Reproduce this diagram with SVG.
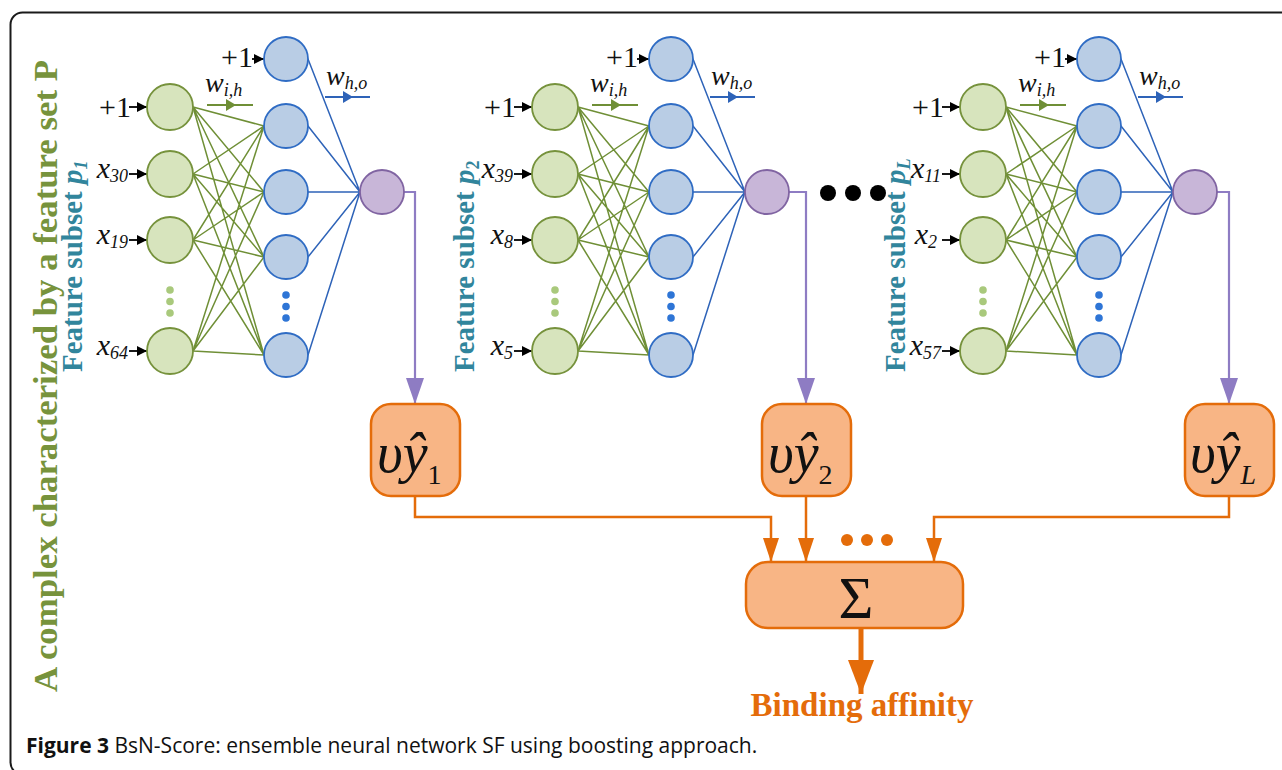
<svg xmlns="http://www.w3.org/2000/svg" xmlns:xlink="http://www.w3.org/1999/xlink" width="1282" height="770" viewBox="0 0 1282 770">
<style>
.in{fill:#d7e4bd;stroke:#76923c;stroke-width:1.8}
.hid{fill:#b9cde5;stroke:#2f6cc4;stroke-width:1.8}
.out{fill:#c8b6d8;stroke:#8064a2;stroke-width:1.8}
.ge{stroke:#6f8f36;stroke-width:1.5;fill:none}
.be{stroke:#2e63b8;stroke-width:1.5;fill:none}
.lab{font-family:"Liberation Serif",serif;font-size:30px;fill:#111}
.labi{font-family:"Liberation Serif",serif;font-size:30px;font-style:italic;fill:#111}
.wl{font-family:"Liberation Serif",serif;font-size:28px;font-style:italic;fill:#111}
.sub{font-size:18px;font-style:italic}
.feat{font-family:"Liberation Serif",serif;font-size:29px;font-weight:bold;fill:#31859c}
.title{font-family:"Liberation Serif",serif;font-size:34px;font-weight:bold;fill:#77933c}
.box{fill:#f8b585;stroke:#e46c0a;stroke-width:2.5}
.oc{stroke:#e46c0a;stroke-width:2.5;fill:none}
.pc{stroke:#8e7cc3;stroke-width:2.2;fill:none}
.ya{font-family:"Liberation Serif",serif;font-size:56px;font-style:italic;fill:#111}
.arr{stroke:#000;stroke-width:1.8}
</style>
<defs>
<marker id="mk-black" markerUnits="userSpaceOnUse" markerWidth="10" markerHeight="10" refX="10" refY="5" orient="auto"><path d="M0,0 L10,5 L0,10 z" fill="#000"/></marker>
<marker id="mk-purple" markerUnits="userSpaceOnUse" markerWidth="26" markerHeight="18" refX="26" refY="9" orient="auto"><path d="M0,0 L26,9 L0,18 z" fill="#8e7cc3"/></marker>
<marker id="mk-orange" markerUnits="userSpaceOnUse" markerWidth="24" markerHeight="16" refX="24" refY="8" orient="auto"><path d="M0,0 L24,8 L0,16 z" fill="#e46c0a"/></marker>
<marker id="mk-big" markerUnits="userSpaceOnUse" markerWidth="34" markerHeight="26" refX="34" refY="13" orient="auto"><path d="M0,0 L34,13 L0,26 z" fill="#e46c0a"/></marker>
<g id="edges">
<path class="ge" d="M23,107 L94,126 M23,107 L94,192 M23,107 L94,257 M23,107 L94,355
M23,174 L94,126 M23,174 L94,192 M23,174 L94,257 M23,174 L94,355
M23,240 L94,126 M23,240 L94,192 M23,240 L94,257 M23,240 L94,355
M23,351 L94,126 M23,351 L94,192 M23,351 L94,257 M23,351 L94,355"/>
<path class="be" d="M138,59 L190,192 M138,126 L190,192 M138,192 L190,192 M138,257 L190,192 M138,355 L190,192"/>
<line class="arr" x1="-41" y1="107" x2="-23" y2="107" marker-end="url(#mk-black)"/>
<line class="arr" x1="-41" y1="174" x2="-23" y2="174" marker-end="url(#mk-black)"/>
<line class="arr" x1="-41" y1="240" x2="-23" y2="240" marker-end="url(#mk-black)"/>
<line class="arr" x1="-41" y1="351" x2="-23" y2="351" marker-end="url(#mk-black)"/>
<line class="arr" x1="82" y1="59" x2="94" y2="59" marker-end="url(#mk-black)"/>
<line x1="37" y1="105" x2="83" y2="105" stroke="#6f8f36" stroke-width="1.8"/>
<path d="M56,99 L66,105 L56,111 z" fill="#6f8f36"/>
<line x1="155" y1="97" x2="200" y2="97" stroke="#2e63b8" stroke-width="1.8"/>
<path d="M173,91 L183,97 L173,103 z" fill="#2e63b8"/>
</g>
</defs>

<rect x="10.5" y="12.5" width="1300" height="762" rx="12" fill="none" stroke="#1a1a1a" stroke-width="2"/>

<text class="title" transform="translate(57,692) rotate(-90)" textLength="632" lengthAdjust="spacingAndGlyphs">A complex characterized by a feature set P</text>
<text class="feat" transform="translate(82,372) rotate(-90)">Feature subset <tspan font-style="italic">p</tspan><tspan font-size="18" font-style="italic" dy="5">1</tspan></text>
<text class="feat" transform="translate(474,372) rotate(-90)">Feature subset <tspan font-style="italic">p</tspan><tspan font-size="18" dy="5">2</tspan></text>
<text class="feat" transform="translate(905,372) rotate(-90)">Feature subset <tspan font-style="italic">p</tspan><tspan font-size="18" font-style="italic" dy="5">L</tspan></text>

<g id="connectors">
<use xlink:href="#edges" href="#edges" transform="translate(170,0)"/>
<use xlink:href="#edges" href="#edges" transform="translate(555,0)"/>
<use xlink:href="#edges" href="#edges" transform="translate(983,0)"/>
<path class="pc" d="M404,192 H415 V404" marker-end="url(#mk-purple)"/>
<path class="pc" d="M789,192 H806 V404" marker-end="url(#mk-purple)"/>
<path class="pc" d="M1217,192 H1229 V404" marker-end="url(#mk-purple)"/>
<path class="oc" d="M415,496 V517 H771 V562" marker-end="url(#mk-orange)"/>
<path class="oc" d="M806,496 V562" marker-end="url(#mk-orange)"/>
<path class="oc" d="M1229,496 V517 H934 V562" marker-end="url(#mk-orange)"/>
<line x1="861" y1="628" x2="861" y2="694" stroke="#e46c0a" stroke-width="5" marker-end="url(#mk-big)"/>
</g>

<!-- network 1 -->
<g id="net1" transform="translate(170,0)">
<g id="n1-in-bias"><circle class="in" cx="0" cy="107" r="23"/><text class="lab" x="-39" y="117" text-anchor="end">+1</text></g>
<g id="n1-in-x30"><circle class="in" cx="0" cy="174" r="23"/><text class="labi" x="-42" y="178" text-anchor="end">x<tspan class="sub" dy="4">30</tspan></text></g>
<g id="n1-in-x19"><circle class="in" cx="0" cy="240" r="23"/><text class="labi" x="-42" y="244" text-anchor="end">x<tspan class="sub" dy="4">19</tspan></text></g>
<g id="n1-in-dots"><circle cx="0" cy="290" r="3.8" fill="#a9c97c"/><circle cx="0" cy="301.5" r="3.8" fill="#a9c97c"/><circle cx="0" cy="313" r="3.8" fill="#a9c97c"/></g>
<g id="n1-in-x64"><circle class="in" cx="0" cy="351" r="23"/><text class="labi" x="-42" y="355" text-anchor="end">x<tspan class="sub" dy="4">64</tspan></text></g>
<g id="n1-h-bias"><circle class="hid" cx="116" cy="59" r="22"/><text class="lab" x="83" y="67" text-anchor="end">+1</text></g>
<g id="n1-h1"><circle class="hid" cx="116" cy="126" r="22"/></g>
<g id="n1-h2"><circle class="hid" cx="116" cy="192" r="22"/></g>
<g id="n1-h3"><circle class="hid" cx="116" cy="257" r="22"/></g>
<g id="n1-h-dots"><circle cx="116" cy="295" r="3.8" fill="#2e75d6"/><circle cx="116" cy="306.5" r="3.8" fill="#2e75d6"/><circle cx="116" cy="318" r="3.8" fill="#2e75d6"/></g>
<g id="n1-h4"><circle class="hid" cx="116" cy="355" r="22"/></g>
<g id="n1-out"><circle class="out" cx="212" cy="192" r="22"/></g>
<g id="n1-wih"><text class="wl" x="35" y="92">w<tspan class="sub" dy="4">i,h</tspan></text></g>
<g id="n1-who"><text class="wl" x="156" y="85">w<tspan class="sub" dy="4">h,o</tspan></text></g>
</g>

<!-- network 2 -->
<g id="net2" transform="translate(555,0)">
<g id="n2-in-bias"><circle class="in" cx="0" cy="107" r="23"/><text class="lab" x="-39" y="117" text-anchor="end">+1</text></g>
<g id="n2-in-x39"><circle class="in" cx="0" cy="174" r="23"/><text class="labi" x="-42" y="178" text-anchor="end">x<tspan class="sub" dy="4">39</tspan></text></g>
<g id="n2-in-x8"><circle class="in" cx="0" cy="240" r="23"/><text class="labi" x="-42" y="244" text-anchor="end">x<tspan class="sub" dy="4">8</tspan></text></g>
<g id="n2-in-dots"><circle cx="0" cy="290" r="3.8" fill="#a9c97c"/><circle cx="0" cy="301.5" r="3.8" fill="#a9c97c"/><circle cx="0" cy="313" r="3.8" fill="#a9c97c"/></g>
<g id="n2-in-x5"><circle class="in" cx="0" cy="351" r="23"/><text class="labi" x="-42" y="355" text-anchor="end">x<tspan class="sub" dy="4">5</tspan></text></g>
<g id="n2-h-bias"><circle class="hid" cx="116" cy="59" r="22"/><text class="lab" x="83" y="67" text-anchor="end">+1</text></g>
<g id="n2-h1"><circle class="hid" cx="116" cy="126" r="22"/></g>
<g id="n2-h2"><circle class="hid" cx="116" cy="192" r="22"/></g>
<g id="n2-h3"><circle class="hid" cx="116" cy="257" r="22"/></g>
<g id="n2-h-dots"><circle cx="116" cy="295" r="3.8" fill="#2e75d6"/><circle cx="116" cy="306.5" r="3.8" fill="#2e75d6"/><circle cx="116" cy="318" r="3.8" fill="#2e75d6"/></g>
<g id="n2-h4"><circle class="hid" cx="116" cy="355" r="22"/></g>
<g id="n2-out"><circle class="out" cx="212" cy="192" r="22"/></g>
<g id="n2-wih"><text class="wl" x="35" y="92">w<tspan class="sub" dy="4">i,h</tspan></text></g>
<g id="n2-who"><text class="wl" x="156" y="85">w<tspan class="sub" dy="4">h,o</tspan></text></g>
</g>

<!-- network L -->
<g id="net3" transform="translate(983,0)">
<g id="n3-in-bias"><circle class="in" cx="0" cy="107" r="23"/><text class="lab" x="-39" y="117" text-anchor="end">+1</text></g>
<g id="n3-in-x11"><circle class="in" cx="0" cy="174" r="23"/><text class="labi" x="-42" y="178" text-anchor="end">x<tspan class="sub" dy="4">11</tspan></text></g>
<g id="n3-in-x2"><circle class="in" cx="0" cy="240" r="23"/><text class="labi" x="-46" y="244" text-anchor="end">x<tspan class="sub" dy="4">2</tspan></text></g>
<g id="n3-in-dots"><circle cx="0" cy="290" r="3.8" fill="#a9c97c"/><circle cx="0" cy="301.5" r="3.8" fill="#a9c97c"/><circle cx="0" cy="313" r="3.8" fill="#a9c97c"/></g>
<g id="n3-in-x57"><circle class="in" cx="0" cy="351" r="23"/><text class="labi" x="-42" y="355" text-anchor="end">x<tspan class="sub" dy="4">57</tspan></text></g>
<g id="n3-h-bias"><circle class="hid" cx="116" cy="59" r="22"/><text class="lab" x="83" y="67" text-anchor="end">+1</text></g>
<g id="n3-h1"><circle class="hid" cx="116" cy="126" r="22"/></g>
<g id="n3-h2"><circle class="hid" cx="116" cy="192" r="22"/></g>
<g id="n3-h3"><circle class="hid" cx="116" cy="257" r="22"/></g>
<g id="n3-h-dots"><circle cx="116" cy="295" r="3.8" fill="#2e75d6"/><circle cx="116" cy="306.5" r="3.8" fill="#2e75d6"/><circle cx="116" cy="318" r="3.8" fill="#2e75d6"/></g>
<g id="n3-h4"><circle class="hid" cx="116" cy="355" r="22"/></g>
<g id="n3-out"><circle class="out" cx="212" cy="192" r="22"/></g>
<g id="n3-wih"><text class="wl" x="35" y="92">w<tspan class="sub" dy="4">i,h</tspan></text></g>
<g id="n3-who"><text class="wl" x="156" y="85">w<tspan class="sub" dy="4">h,o</tspan></text></g>
</g>

<g id="more-nets"><circle cx="828" cy="193" r="8" fill="#000"/><circle cx="853" cy="193" r="8" fill="#000"/><circle cx="878" cy="193" r="8" fill="#000"/></g>

<g id="box1"><rect class="box" x="371" y="404" width="89" height="92" rx="20"/><text class="ya" x="377" y="472">υŷ<tspan style="font-size:28px;font-style:normal" dy="12">1</tspan></text></g>
<g id="box2"><rect class="box" x="762" y="404" width="89" height="92" rx="20"/><text class="ya" x="768" y="472">υŷ<tspan style="font-size:28px;font-style:normal" dy="12">2</tspan></text></g>
<g id="boxL"><rect class="box" x="1185" y="404" width="89" height="92" rx="20"/><text class="ya" x="1190" y="472">υŷ<tspan style="font-size:28px;font-style:italic" dy="12">L</tspan></text></g>

<g id="more-boxes"><circle cx="847" cy="540" r="6" fill="#e46c0a"/><circle cx="867" cy="540" r="6" fill="#e46c0a"/><circle cx="887" cy="540" r="6" fill="#e46c0a"/></g>

<g id="sum"><rect class="box" x="746" y="562" width="217" height="66" rx="22"/><text x="856" y="618" text-anchor="middle" font-family="Liberation Serif, serif" font-size="60" fill="#111">Σ</text></g>

<g id="result"><text x="862" y="716" text-anchor="middle" font-family="Liberation Serif, serif" font-size="33" font-weight="bold" fill="#e46c0a">Binding affinity</text></g>

<text x="26" y="753" font-family="Open Sans, sans-serif" font-size="21" fill="#111"><tspan font-weight="bold">Figure 3</tspan> BsN-Score: ensemble neural network SF using boosting approach.</text>
</svg>
